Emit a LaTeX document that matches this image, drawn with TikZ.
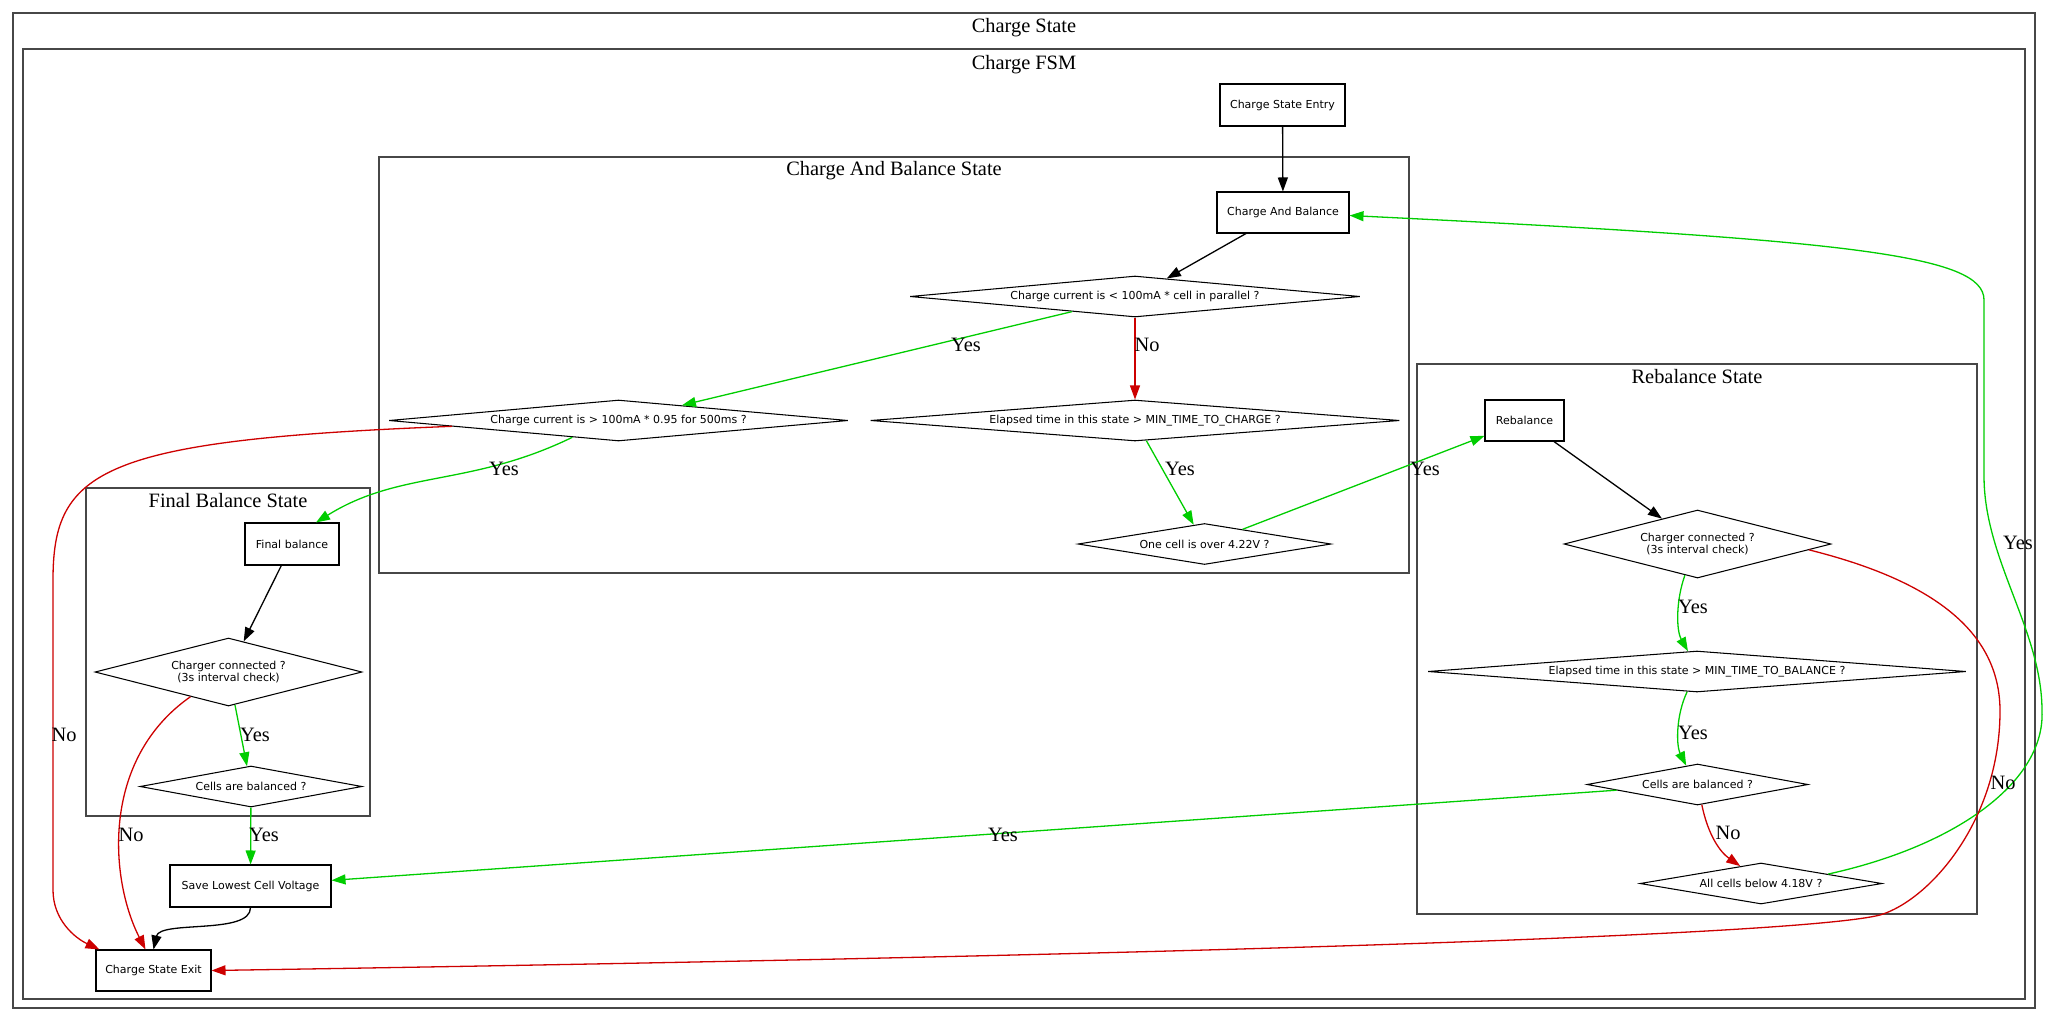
\documentclass[tikz,border=0pt]{standalone}
\usepackage{fontspec}
\setmainfont{Liberation Serif}
\newfontfamily\nodefont{DejaVu Sans}
\usetikzlibrary{arrows.meta,shapes.geometric,calc}
\definecolor{egreen}{RGB}{0,205,0}
\definecolor{ered}{RGB}{205,0,0}
\begin{document}
\begin{tikzpicture}[x=1pt,y=1pt,
  cluster/.style={draw=black!72,line width=1.5pt},
  ctitle/.style={font=\fontsize{20.4}{24}\selectfont,inner sep=0pt},
  lbl/.style={font=\fontsize{20.4}{24}\selectfont,inner sep=0pt},
  sbox/.style={draw,line width=1.05pt,rectangle,inner sep=0pt,font=\nodefont\fontsize{11}{12.7}\selectfont},
  dia/.style={draw,line width=1.05pt,diamond,inner sep=0pt,align=center,font=\nodefont\fontsize{11}{12.7}\selectfont},
  conn/.style={line width=1.3pt,-{Triangle[length=14pt,width=10pt]}}
]
\useasboundingbox (0,0) rectangle (2048,-1021);

% clusters
\draw[cluster] (13,-13) rectangle (2035,-1008);
\node[ctitle] (tcs) at (1024,-28) {Charge State};
\draw[cluster] (23,-49) rectangle (2025,-999);
\node[ctitle] (tfsm) at (1024,-65) {Charge FSM};
\draw[cluster] (379,-157) rectangle (1409,-573);
\node[ctitle] (tcab) at (894,-171) {Charge And Balance State};
\draw[cluster] (1417,-364) rectangle (1977,-914);
\node[ctitle] (treb) at (1697,-377) {Rebalance State};
\draw[cluster] (86,-488) rectangle (370,-816);
\node[ctitle] (tfin) at (228,-501) {Final Balance State};

% nodes
\node[sbox,minimum width=125,minimum height=42] (entry) at (1282.5,-105) {Charge State Entry};
\node[sbox,minimum width=132,minimum height=41] (cab) at (1283,-212.5) {Charge And Balance};
\node[dia,minimum width=450,minimum height=41,shape aspect=10.98] (d1) at (1135,-296.5) {Charge current is < 100mA * cell in parallel ?};
\node[dia,minimum width=459,minimum height=41,shape aspect=11.2] (d2) at (618.5,-420.5) {Charge current is > 100mA * 0.95 for 500ms ?};
\node[dia,minimum width=529,minimum height=41,shape aspect=12.9] (d3) at (1135,-420.5) {Elapsed time in this state > MIN\_TIME\_TO\_CHARGE ?};
\node[dia,minimum width=253,minimum height=41,shape aspect=6.17] (d4) at (1204.5,-544) {One cell is over 4.22V ?};
\node[sbox,minimum width=79,minimum height=41] (reb) at (1524.5,-420.5) {Rebalance};
\node[dia,minimum width=267,minimum height=68,shape aspect=3.93] (d5) at (1697.5,-544) {Charger connected ?\\ (3s interval check)};
\node[dia,minimum width=538,minimum height=41,shape aspect=13.1] (d6) at (1697,-671.5) {Elapsed time in this state > MIN\_TIME\_TO\_BALANCE ?};
\node[dia,minimum width=221,minimum height=41,shape aspect=5.39] (d7) at (1697.5,-784.5) {Cells are balanced ?};
\node[dia,minimum width=242,minimum height=41,shape aspect=5.9] (d8) at (1761,-883.5) {All cells below 4.18V ?};
\node[sbox,minimum width=94,minimum height=42] (fb) at (292,-544) {Final balance};
\node[dia,minimum width=267,minimum height=68,shape aspect=3.93] (dfc) at (228.5,-672) {Charger connected ?\\ (3s interval check)};
\node[dia,minimum width=222,minimum height=41,shape aspect=5.41] (dfb) at (251,-786.5) {Cells are balanced ?};
\node[sbox,minimum width=161,minimum height=42] (save) at (250.5,-886) {Save Lowest Cell Voltage};
\node[sbox,minimum width=115,minimum height=41] (exit) at (153.5,-970.5) {Charge State Exit};

% straight connectors
\draw[conn] (entry) -- (cab);
\draw[conn] (cab) -- (d1);
\draw[conn,egreen] (d1) -- (d2);
\draw[conn,ered] (d1) -- (d3);
\draw[conn,egreen] (d3) -- (d4);
\draw[conn,egreen] (d4) -- (reb);
\draw[conn] (reb) -- (d5);
\draw[conn,egreen] (d7) -- (save);
\draw[conn] (fb) -- (dfc);
\draw[conn,egreen] (dfc) -- (dfb);
\draw[conn,egreen] (dfb) -- (save);

% curved connectors
\draw[conn,ered] (d2.-178) .. controls (100,-440) and (53,-470) .. (53,-580) -- (53,-890)
   .. controls (53,-920) and (75,-938) .. ($(exit.north west)+(4,0)$);
\draw[conn,ered] (dfc.-147) .. controls (100,-760) and (110,-880) .. ($(exit.north)+(-8,0)$);
\draw[conn] (save.south) .. controls (251,-935) and (160,-920) .. (exit.north);
\draw[conn,egreen] (d2.-160.5) .. controls (470,-487) and (400,-470) .. ($(fb.north)+(24,0)$);
\draw[conn,egreen] (d5.-112) .. controls (1676,-600) and (1676,-630) .. (d6.114);
\draw[conn,egreen] (d6.-116) .. controls (1676,-715) and (1676,-745) .. (d7.121);
\draw[conn,ered] (d7.-78) .. controls (1708,-835) and (1720,-852) .. (d8.140);
\draw[conn,egreen] (d8.8.7) .. controls (1960,-845) and (2045,-780) .. (2042,-711)
   .. controls (2042,-630) and (1984,-560) .. (1984,-476) -- (1984,-300)
   .. controls (1984,-255) and (1850,-240) .. ($(cab.east)+(0,-3)$);
\draw[conn,ered] (d5.-3.5) .. controls (1930,-580) and (2000,-630) .. (2000,-711)
   .. controls (2000,-820) and (1930,-900) .. (1880,-915)
   .. controls (1800,-935) and (1200,-955) .. (exit.east);

% edge labels
\node[lbl] (l1) at (966,-345) {Yes};
\node[lbl] (l2) at (1147,-345) {No};
\node[lbl] (l3) at (504,-469) {Yes};
\node[lbl] (l4) at (1180,-469) {Yes};
\node[lbl] (l5) at (1425,-469) {Yes};
\node[lbl] (l6) at (64,-735) {No};
\node[lbl] (l7) at (255,-735) {Yes};
\node[lbl] (l8) at (131,-835) {No};
\node[lbl] (l9) at (264,-835) {Yes};
\node[lbl] (l10) at (1693,-607) {Yes};
\node[lbl] (l11) at (1693,-733) {Yes};
\node[lbl] (l12) at (1728,-833) {No};
\node[lbl] (l13) at (1003,-835) {Yes};
\node[lbl] (l14) at (2018,-543) {Yes};
\node[lbl] (l15) at (2003,-783) {No};
\end{tikzpicture}
\end{document}
